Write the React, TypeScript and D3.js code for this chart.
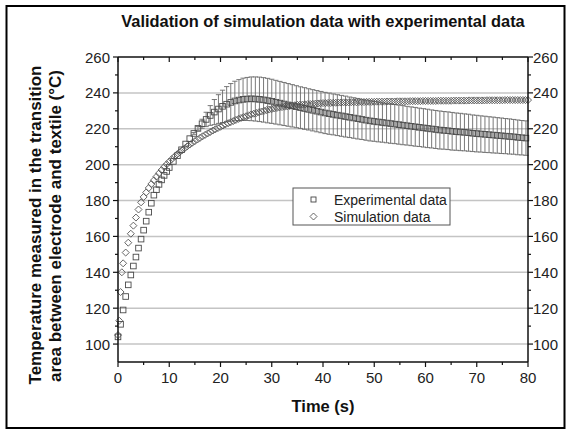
import React from "react";
import * as d3 from "d3";

const title = "Validation of simulation data with experimental data";
const xLabel = "Time (s)";
const yLabel1 = "Temperature measured in the transition";
const yLabel2 = "area between electrode and textile (°C)";
const legendLabels = ["Experimental data", "Simulation data"];

const xTicks = [0, 10, 20, 30, 40, 50, 60, 70, 80];
const xMinorTicks = [5, 15, 25, 35, 45, 55, 65, 75];
const yTicks = [100, 120, 140, 160, 180, 200, 220, 240, 260];
const yMinorTicks = [110, 130, 150, 170, 190, 210, 230, 250];
const gridValues = [100, 120, 140, 160, 180, 200, 220, 240];

// Experimental data: 0..9.5 s every 0.5 s, then from 10 s every 0.8 s
const expEarlyMean = [104, 111, 119, 126.5, 133, 138.5, 143.5, 148.5, 153.5, 158.5, 163.5, 168.5, 173.5, 178.5, 183, 186, 189, 191.5, 194, 196.2];
const expLateMean = [
  198.4, 201.8, 205, 208.3, 211.5, 214.5, 217.4, 220.2, 222.8, 225.2,
  227.4, 229.3, 231, 232.5, 233.7, 234.7, 235.5, 236, 236.4, 236.6,
  236.7, 236.6, 236.4, 236.1, 235.7, 235.3, 234.8, 234.3, 233.8, 233.3,
  232.8, 232.3, 231.8, 231.3, 230.8, 230.3, 229.8, 229.3, 228.8, 228.4,
  228, 227.6, 227.2, 226.8, 226.4, 226, 225.6, 225.2, 224.8, 224.4,
  224.1, 223.8, 223.5, 223.2, 222.9, 222.6, 222.3, 222, 221.7, 221.4,
  221.1, 220.8, 220.5, 220.2, 219.9, 219.6, 219.3, 219.1, 218.9, 218.6,
  218.4, 218.2, 218, 217.8, 217.5, 217.3, 217.1, 216.9, 216.7, 216.5,
  216.3, 216.1, 215.9, 215.7, 215.5, 215.2, 215, 214.8,
];
const expLateErr = [
  0, 0, 0, 0, 0, 0, 0.5, 1, 2.5, 4,
  5.5, 7, 8, 9, 9.8, 10.5, 11, 11.4, 11.8, 12,
  12.2, 12.3, 12.4, 12.4, 12.4, 12.3, 12.2, 12.1, 12, 11.9,
  11.8, 11.7, 11.6, 11.6, 11.5, 11.5, 11.5, 11.5, 11.5, 11.5,
  11.4, 11.4, 11.4, 11.4, 11.3, 11.3, 11.3, 11.2, 11.2, 11.2,
  11.1, 11.1, 11.0, 11.0, 11.0, 10.9, 10.9, 10.9, 10.8, 10.8,
  10.8, 10.7, 10.7, 10.7, 10.6, 10.6, 10.6, 10.5, 10.5, 10.5,
  10.4, 10.4, 10.3, 10.3, 10.2, 10.2, 10.1, 10.1, 10.0, 10.0,
  9.9, 9.9, 9.8, 9.8, 9.7, 9.7, 9.6, 9.6,
];

// Simulation data: 0, 0.25, 0.5, 0.75 s, then every 0.5 s from 1 s
const simEarly = [105, 113, 129, 140];
const simMain = [
  145, 151, 156.5, 161.5, 166, 170.5, 175, 179, 182, 184.5,
  187, 189.2, 191.3, 193.3, 195.2, 197, 198.7, 200.2, 201.7, 203.1,
  204.4, 205.7, 206.9, 208, 209.1, 210.2, 211.2, 212.2, 213.1, 214,
  214.9, 215.8, 216.6, 217.4, 218.2, 219, 219.7, 220.4, 221.1, 221.8,
  222.5, 223.1, 223.7, 224.3, 224.9, 225.5, 226, 226.5, 227, 227.5,
  228, 228.4, 228.8, 229.2, 229.6, 230, 230.4, 230.7, 231, 231.3,
  231.6, 231.9, 232.1, 232.3, 232.5, 232.7, 232.9, 233.1, 233.3, 233.4,
  233.5, 233.6, 233.7, 233.8, 233.9, 234, 234.1, 234.2, 234.3, 234.3,
  234.4, 234.4, 234.5, 234.5, 234.6, 234.6, 234.7, 234.7, 234.7, 234.8,
  234.8, 234.8, 234.9, 234.9, 234.9, 235, 235, 235, 235, 235.1,
  235.1, 235.1, 235.1, 235.2, 235.2, 235.2, 235.2, 235.3, 235.3, 235.3,
  235.3, 235.3, 235.4, 235.4, 235.4, 235.4, 235.4, 235.5, 235.5, 235.5,
  235.5, 235.5, 235.5, 235.6, 235.6, 235.6, 235.6, 235.6, 235.6, 235.7,
  235.7, 235.7, 235.7, 235.7, 235.7, 235.8, 235.8, 235.8, 235.8, 235.8,
  235.8, 235.8, 235.9, 235.9, 235.9, 235.9, 235.9, 235.9, 235.9, 236,
  236, 236, 236, 236, 236, 236, 236, 236, 236,
];

const W = 570;
const H = 434;
const FONT = "'Liberation Sans', Arial, Helvetica, sans-serif";

export default function App() {
  const x = d3.scaleLinear().domain([0, 80]).range([118, 528]);
  const y = d3.scaleLinear().domain([90, 260]).range([362, 57]);

  const expData = [
    ...expEarlyMean.map((v, i) => ({ t: i * 0.5, v, e: 0 })),
    ...expLateMean.map((v, i) => ({ t: 10 + i * 0.8, v, e: expLateErr[i] ?? 0 })),
  ];
  const simData = [
    ...simEarly.map((v, i) => ({ t: i * 0.25, v })),
    ...simMain.map((v, i) => ({ t: 1 + i * 0.5, v })),
  ];

  const [x0, x1] = x.range();
  const [yb, yt] = y.range();
  const diamond = (cx: number, cy: number, r: number) =>
    `M${cx},${cy - r}L${cx + r},${cy}L${cx},${cy + r}L${cx - r},${cy}Z`;
  const sq = 5.6;
  const capW = 2.6;
  const tickFont = 15;

  return (
    <svg
      width={W}
      height={H}
      style={{ position: "absolute", left: 0, top: 0, background: "#fff" }}
      fontFamily={FONT}
    >
      <rect x={0} y={0} width={W} height={H} fill="#fff" />
      <rect x={6.5} y={6} width={558} height={422} fill="none" stroke="#000" strokeWidth={2} />

      <text x={323} y={27} textAnchor="middle" fontSize={16.4} fontWeight="bold" fill="#111">
        {title}
      </text>

      {/* grid */}
      {gridValues.map((g) => (
        <line key={"g" + g} x1={x0} x2={x1} y1={y(g)} y2={y(g)} stroke="#c4c4c4" strokeWidth={1.5} />
      ))}

      {/* error bars */}
      <g stroke="#6a6a6a" strokeWidth={0.9} fill="none">
        {expData
          .filter((d) => d.e > 0)
          .map((d, i) => (
            <g key={"e" + i}>
              <line x1={x(d.t)} x2={x(d.t)} y1={y(d.v + d.e)} y2={y(d.v - d.e)} />
              <line x1={x(d.t) - capW} x2={x(d.t) + capW} y1={y(d.v + d.e)} y2={y(d.v + d.e)} />
              <line x1={x(d.t) - capW} x2={x(d.t) + capW} y1={y(d.v - d.e)} y2={y(d.v - d.e)} />
            </g>
          ))}
      </g>

      {/* simulation diamonds */}
      <g stroke="#555" strokeWidth={0.9} fill="none">
        {simData.map((d, i) => (
          <path key={"s" + i} d={diamond(x(d.t), y(d.v), 3.5)} />
        ))}
      </g>

      {/* experimental squares */}
      <g stroke="#4a4a4a" strokeWidth={0.9} fill="none">
        {expData.map((d, i) => (
          <rect key={"p" + i} x={x(d.t) - sq / 2} y={y(d.v) - sq / 2} width={sq} height={sq} />
        ))}
      </g>

      {/* axes frame */}
      <g stroke="#111" strokeWidth={1.5} fill="none">
        <line x1={x0} x2={x0} y1={yt} y2={yb} />
        <line x1={x1} x2={x1} y1={yt} y2={yb} />
        <line x1={x0} x2={x1} y1={yt} y2={yt} />
        <line x1={x0} x2={x1} y1={yb} y2={yb} />
      </g>

      {/* ticks */}
      <g stroke="#111" strokeWidth={1.2}>
        {yTicks.map((t) => (
          <g key={"yt" + t}>
            <line x1={x0 - 5} x2={x0} y1={y(t)} y2={y(t)} />
            <line x1={x1} x2={x1 + 5} y1={y(t)} y2={y(t)} />
          </g>
        ))}
        {yMinorTicks.map((t) => (
          <g key={"ym" + t}>
            <line x1={x0 - 3} x2={x0} y1={y(t)} y2={y(t)} />
            <line x1={x1} x2={x1 + 3} y1={y(t)} y2={y(t)} />
          </g>
        ))}
        {xTicks.map((t) => (
          <g key={"xt" + t}>
            <line x1={x(t)} x2={x(t)} y1={yb} y2={yb + 5} />
            <line x1={x(t)} x2={x(t)} y1={yt} y2={yt + 5} />
          </g>
        ))}
        {xMinorTicks.map((t) => (
          <g key={"xm" + t}>
            <line x1={x(t)} x2={x(t)} y1={yb} y2={yb + 3} />
            <line x1={x(t)} x2={x(t)} y1={yt} y2={yt + 3} />
          </g>
        ))}
      </g>

      {/* tick labels */}
      <g fontSize={tickFont} fill="#222">
        {yTicks.map((t) => (
          <text key={"yl" + t} x={x0 - 8} y={y(t) + 5.5} textAnchor="end">
            {t}
          </text>
        ))}
        {yTicks.map((t) => (
          <text key={"yr" + t} x={x1 + 5} y={y(t) + 5.5} textAnchor="start">
            {t}
          </text>
        ))}
        {xTicks.map((t) => (
          <text key={"xl" + t} x={x(t)} y={yb + 21} textAnchor="middle">
            {t}
          </text>
        ))}
      </g>

      <text x={(x0 + x1) / 2} y={412} textAnchor="middle" fontSize={16.5} fontWeight="bold" fill="#111">
        {xLabel}
      </text>
      <g fontSize={17} fontWeight="bold" fill="#111" textAnchor="middle">
        <text transform={`translate(41, 225) rotate(-90)`}>{yLabel1}</text>
        <text transform={`translate(61, 226) rotate(-90)`}>{yLabel2}</text>
      </g>

      {/* legend */}
      <g>
        <rect x={293} y={188} width={157} height={37} fill="#fff" stroke="#555" strokeWidth={1} />
        <rect x={311} y={197} width={5} height={5} fill="none" stroke="#444" strokeWidth={0.9} />
        <path d={diamond(313.5, 216.5, 3.5)} fill="none" stroke="#555" strokeWidth={0.9} />
        <text x={334} y={204.5} fontSize={14} fill="#222">{legendLabels[0]}</text>
        <text x={334} y={221.5} fontSize={14} fill="#222">{legendLabels[1]}</text>
      </g>
    </svg>
  );
}
